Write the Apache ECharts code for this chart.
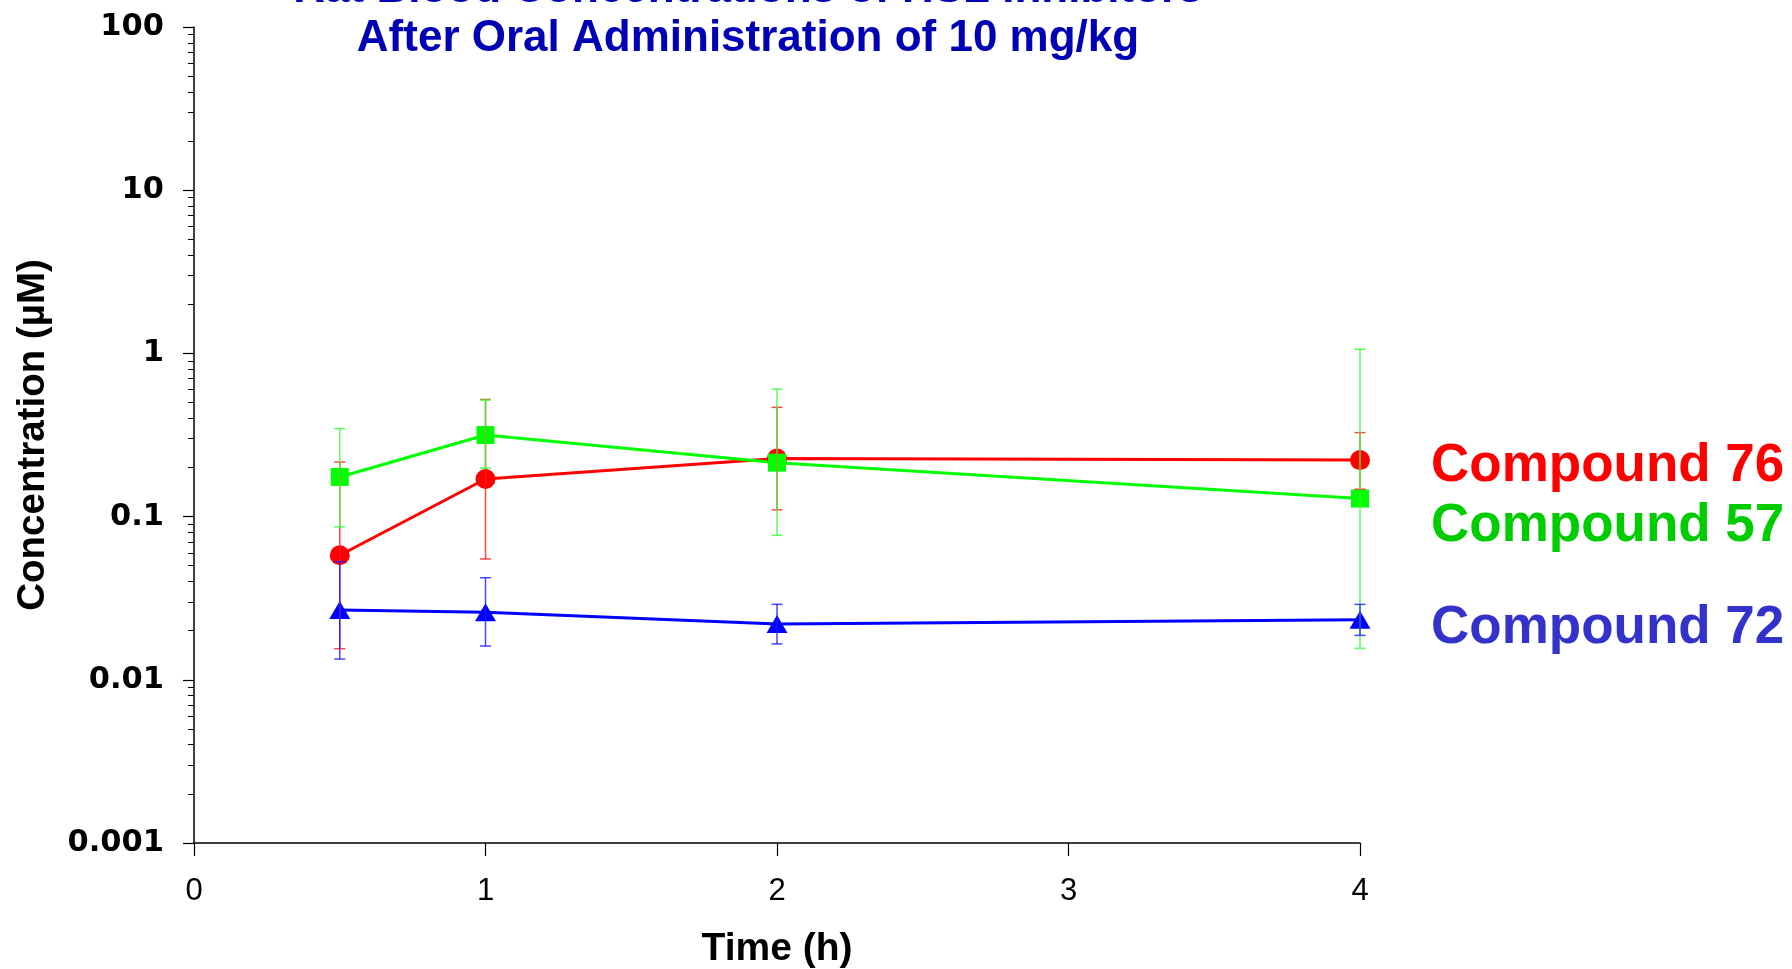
<!DOCTYPE html>
<html>
<head>
<meta charset="utf-8">
<script src="https://cdn.jsdelivr.net/npm/echarts@6/dist/echarts.min.js"></script>
<style>
  html, body { margin: 0; padding: 0; background: #ffffff; }
  #chart { width: 1792px; height: 969px; }
</style>
</head>
<body>
<div id="chart"></div>
<script>
// Sampling times (h)
const times = [0.5, 1, 2, 4];

// Compound 76: mean concentration and error-bar limits (µM)
const c76Mean = [0.058, 0.170, 0.227, 0.222];
const c76Low  = [0.0155, 0.055, 0.110, 0.147];
const c76High = [0.216, 0.522, 0.467, 0.327];

// Compound 57
const c57Mean = [0.175, 0.316, 0.214, 0.129];
const c57Low  = [0.0864, 0.198, 0.0768, 0.0156];
const c57High = [0.346, 0.518, 0.604, 1.06];

// Compound 72
const c72Mean = [0.0268, 0.0259, 0.0220, 0.0233];
const c72Low  = [0.0134, 0.0161, 0.0166, 0.0187];
const c72High = [0.053, 0.0422, 0.0290, 0.0290];

// Axis ranges and tick labels
const xTicks = [0, 1, 2, 3, 4];
const yMin = 0.001, yMax = 100;

const titleLines = ['Rat Blood Concentrations of HSL Inhibitors', 'After Oral Administration of 10 mg/kg'];
const seriesNames = ['Compound 76', 'Compound 57', 'Compound 72'];

// Log-scale minor ticks at 2..9 within each decade
const minorTicks = [];
for (let d = -3; d < 2; d++) {
  for (let m = 2; m <= 9; m++) minorTicks.push(Number((m * Math.pow(10, d)).toPrecision(3)));
}

const pairs = (ys) => times.map((t, i) => [t, ys[i]]);
const bars = (lo, hi) => times.map((t, i) => [t, lo[i], hi[i]]);

function errorBar(color) {
  return function (params, api) {
    const x = api.value(0);
    const top = api.coord([x, api.value(2)]);
    const bot = api.coord([x, api.value(1)]);
    const hw = 5.5;
    const style = { stroke: color, lineWidth: 1.5, opacity: 0.8 };
    return {
      type: 'group',
      children: [
        { type: 'line', shape: { x1: top[0], y1: top[1], x2: bot[0], y2: bot[1] }, style },
        { type: 'line', shape: { x1: top[0] - hw, y1: top[1], x2: top[0] + hw, y2: top[1] }, style },
        { type: 'line', shape: { x1: bot[0] - hw, y1: bot[1], x2: bot[0] + hw, y2: bot[1] }, style }
      ]
    };
  };
}

const chart = echarts.init(document.getElementById('chart'), null, { renderer: 'canvas' });

const axisLineStyle = { color: '#000000', width: 1.5 };

chart.setOption({
  animation: false,
  backgroundColor: '#ffffff',
  grid: { left: 194, right: 432, top: 27, bottom: 126, containLabel: false, outerBoundsMode: 'none' },
  xAxis: {
    type: 'value',
    min: xTicks[0],
    max: xTicks[xTicks.length - 1],
    interval: 1,
    name: 'Time (h)',
    nameLocation: 'middle',
    nameGap: 87,
    nameTextStyle: { fontFamily: 'Liberation Sans', fontWeight: 'bold', fontSize: 39, color: '#000000' },
    axisLine: { show: true, onZero: false, lineStyle: axisLineStyle },
    axisTick: { show: true, inside: false, length: 13, lineStyle: { color: '#000000', width: 1.2 } },
    axisLabel: { margin: 33, fontFamily: 'Liberation Sans', fontSize: 31, color: '#000000' },
    splitLine: { show: false }
  },
  yAxis: [
    {
      type: 'log',
      logBase: 10,
      min: yMin,
      max: yMax,
      position: 'left',
      name: 'Concentration (µM)',
      nameLocation: 'middle',
      nameRotate: 90,
      nameGap: 141,
      nameTextStyle: { fontFamily: 'Liberation Sans', fontWeight: 'bold', fontSize: 38.5, color: '#000000' },
      axisLine: { show: true, onZero: false, lineStyle: axisLineStyle },
      axisTick: { show: true, inside: false, length: 11, lineStyle: { color: '#000000', width: 1.2 } },
      axisLabel: {
        margin: 30,
        fontFamily: 'DejaVu Sans',
        fontWeight: 'bold',
        fontSize: 30.5,
        color: '#000000',
        formatter: (v) => String(Number(v.toPrecision(3)))
      },
      splitLine: { show: false }
    },
    {
      type: 'log',
      logBase: 10,
      min: yMin,
      max: yMax,
      position: 'left',
      offset: 0,
      axisLine: { show: false },
      axisTick: { show: true, inside: false, length: 6, customValues: minorTicks, lineStyle: { color: '#000000', width: 1 } },
      axisLabel: { show: false },
      splitLine: { show: false }
    }
  ],
  graphic: [
    {
      type: 'text', x: 748, y: -10, silent: true,
      style: { text: titleLines[0], align: 'center', verticalAlign: 'middle',
        font: 'bold 44px "Liberation Sans"', fill: '#0000b4' }
    },
    {
      type: 'text', x: 748, y: 38.5, silent: true,
      style: { text: titleLines[1], align: 'center', verticalAlign: 'middle',
        font: 'bold 44px "Liberation Sans"', fill: '#0000b4' }
    },
    {
      type: 'text', x: 1431, y: 466.5, silent: true,
      style: { text: seriesNames[0], align: 'left', verticalAlign: 'middle',
        font: 'bold 53px "Liberation Sans"', fill: '#ff0000' }
    },
    {
      type: 'text', x: 1431, y: 526, silent: true,
      style: { text: seriesNames[1], align: 'left', verticalAlign: 'middle',
        font: 'bold 53px "Liberation Sans"', fill: '#00cc00' }
    },
    {
      type: 'text', x: 1431, y: 628.5, silent: true,
      style: { text: seriesNames[2], align: 'left', verticalAlign: 'middle',
        font: 'bold 53px "Liberation Sans"', fill: '#3333cc' }
    }
  ],
  series: [
    {
      name: seriesNames[0], type: 'line', data: pairs(c76Mean), z: 2,
      symbol: 'circle', symbolSize: 20,
      lineStyle: { color: '#ff0000', width: 3 },
      itemStyle: { color: '#ff0000' }
    },
    {
      name: seriesNames[1], type: 'line', data: pairs(c57Mean), z: 2,
      symbol: 'rect', symbolSize: 18,
      lineStyle: { color: '#00ff00', width: 3 },
      itemStyle: { color: '#00ff00' }
    },
    {
      name: seriesNames[2], type: 'line', data: pairs(c72Mean), z: 2,
      symbol: 'triangle', symbolSize: [21, 18],
      lineStyle: { color: '#0000ff', width: 3 },
      itemStyle: { color: '#0000ff' }
    },
    {
      type: 'custom', data: bars(c76Low, c76High), z: 3, silent: true,
      encode: { x: 0, y: [1, 2] }, renderItem: errorBar('#ff1a1a')
    },
    {
      type: 'custom', data: bars(c57Low, c57High), z: 3, silent: true,
      encode: { x: 0, y: [1, 2] }, renderItem: errorBar('#33ff33')
    },
    {
      type: 'custom', data: bars(c72Low, c72High), z: 3, silent: true,
      encode: { x: 0, y: [1, 2] }, renderItem: errorBar('#1a1aff')
    }
  ]
});
</script>
</body>
</html>
